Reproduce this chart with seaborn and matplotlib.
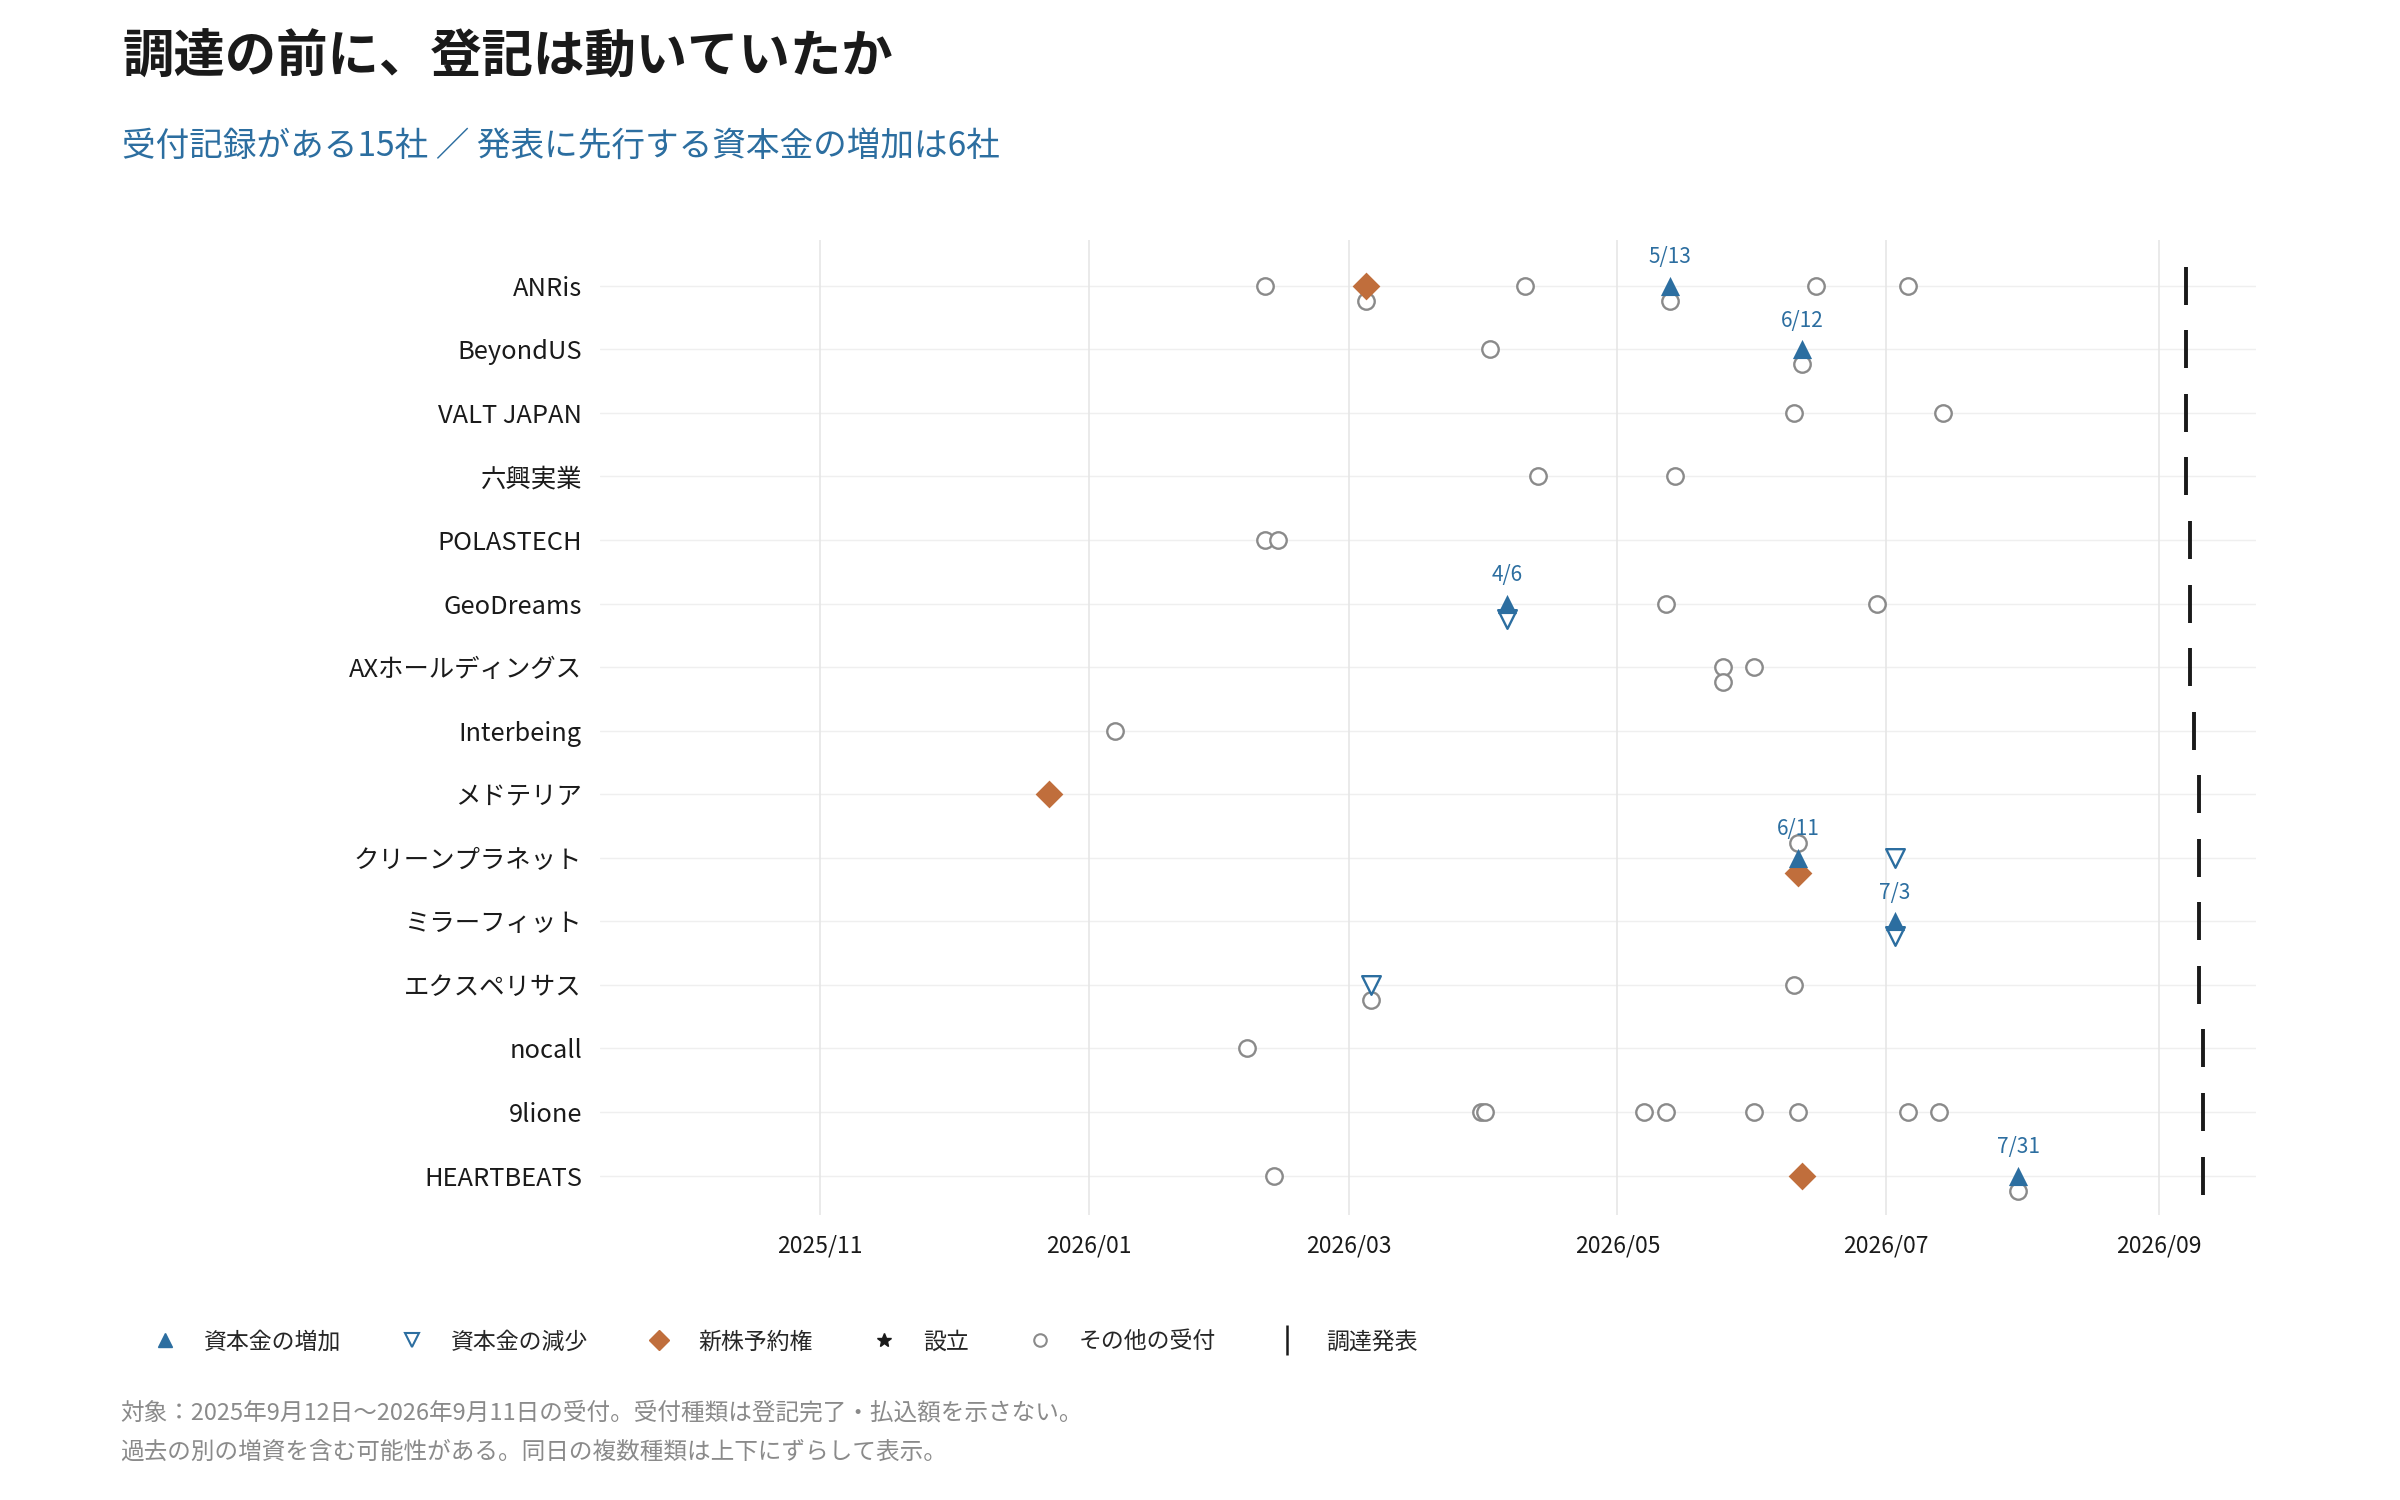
import matplotlib
matplotlib.use("Agg")
import matplotlib.pyplot as plt
import matplotlib.dates as mdates
from matplotlib.lines import Line2D
import seaborn as sns
import pandas as pd
import numpy as np

# Datos
companies = ["ANRis", "BeyondUS", "VALT JAPAN", "六興実業", "POLASTECH", "GeoDreams",
             "AXホールディングス", "Interbeing", "メドテリア", "クリーンプラネット",
             "ミラーフィット", "エクスペリサス", "nocall", "9lione", "HEARTBEATS"]

announce_dates = ["2026-09-07", "2026-09-07", "2026-09-07", "2026-09-07",
                  "2026-09-08", "2026-09-08", "2026-09-08", "2026-09-09",
                  "2026-09-10", "2026-09-10", "2026-09-10", "2026-09-10",
                  "2026-09-11", "2026-09-11", "2026-09-11"]

ev_company = (["ANRis"] * 8 + ["BeyondUS"] * 3 + ["VALT JAPAN"] * 2 + ["六興実業"] * 2
              + ["POLASTECH"] * 2 + ["GeoDreams"] * 4 + ["AXホールディングス"] * 3
              + ["Interbeing"] + ["メドテリア"] + ["クリーンプラネット"] * 4
              + ["ミラーフィット"] * 2 + ["エクスペリサス"] * 3 + ["nocall"]
              + ["9lione"] * 8 + ["HEARTBEATS"] * 4)

ev_date = ["2026-02-10", "2026-03-05", "2026-03-05", "2026-04-10", "2026-05-13", "2026-05-13", "2026-06-15", "2026-07-06",
           "2026-04-02", "2026-06-12", "2026-06-12",
           "2026-06-10", "2026-07-14",
           "2026-04-13", "2026-05-14",
           "2026-02-10", "2026-02-13",
           "2026-04-06", "2026-04-06", "2026-05-12", "2026-06-29",
           "2026-05-25", "2026-05-25", "2026-06-01",
           "2026-01-07",
           "2025-12-23",
           "2026-06-11", "2026-06-11", "2026-06-11", "2026-07-03",
           "2026-07-03", "2026-07-03",
           "2026-03-06", "2026-03-06", "2026-06-10",
           "2026-02-06",
           "2026-03-31", "2026-04-01", "2026-05-07", "2026-05-12", "2026-06-01", "2026-06-11", "2026-07-06", "2026-07-13",
           "2026-02-12", "2026-06-12", "2026-07-31", "2026-07-31"]

ev_kind = ["other", "opt", "other", "other", "up", "other", "other", "other",
           "other", "up", "other",
           "other", "other",
           "other", "other",
           "other", "other",
           "up", "down", "other", "other",
           "other", "other", "other",
           "other",
           "opt",
           "other", "up", "opt", "down",
           "up", "down",
           "down", "other", "other",
           "other",
           "other", "other", "other", "other", "other", "other", "other", "other",
           "other", "opt", "up", "other"]

legend_labels = ["資本金の増加", "資本金の減少", "新株予約権", "設立", "その他の受付", "調達発表"]

BLUE = "#2c6ea0"
ORANGE = "#c06e3c"
GRAY = "#8a8a8a"
DARK = "#1a1a1a"

sns.set_theme(style="white")
plt.rcParams["font.family"] = ["Noto Sans CJK JP", "DejaVu Sans"]

df = pd.DataFrame({"company": ev_company, "date": pd.to_datetime(ev_date), "kind": ev_kind})
row = {c: i for i, c in enumerate(companies)}
df["row"] = df["company"].map(row)
# mismo día: desplazar arriba/abajo
g = df.groupby(["company", "date"])
df["idx"] = g.cumcount()
df["n"] = g["kind"].transform("size")
step = 0.236
df["y"] = df["row"] + (df["idx"] - (df["n"] - 1) // 2) * step

ann = pd.DataFrame({"company": companies, "date": pd.to_datetime(announce_dates)})
ann["y"] = ann["company"].map(row)

fig = plt.figure(figsize=(24, 15), dpi=100)
ax = fig.add_axes([0.25, 0.19, 0.69, 0.65])

for i in range(len(companies)):
    ax.axhline(i, color="#efefef", lw=1.0, zorder=0)

sns.scatterplot(data=df[df.kind == "other"], x="date", y="y", marker="o", s=140,
                facecolor="white", edgecolor=GRAY, linewidth=1.7, ax=ax, zorder=3)
sns.scatterplot(data=df[df.kind == "opt"], x="date", y="y", marker="D", s=200,
                facecolor=ORANGE, edgecolor=ORANGE, linewidth=0, ax=ax, zorder=4)
sns.scatterplot(data=df[df.kind == "down"], x="date", y="y", marker="v", s=180,
                facecolor="white", edgecolor=BLUE, linewidth=1.7, ax=ax, zorder=4)
sns.scatterplot(data=df[df.kind == "up"], x="date", y="y", marker="^", s=190,
                facecolor=BLUE, edgecolor=BLUE, linewidth=0, ax=ax, zorder=5)
sns.scatterplot(data=ann, x="date", y="y", marker="|", s=720, color=DARK,
                linewidth=2.8, ax=ax, zorder=5)

# etiquetas de fecha del aumento de capital
for _, r in df[df.kind == "up"].iterrows():
    ax.text(r["date"], r["row"] - 0.45, f"{r['date'].month}/{r['date'].day}",
            ha="center", va="center", color=BLUE, fontsize=15, zorder=6)

ax.set_xlim(pd.Timestamp("2025-09-12"), pd.Timestamp("2026-09-23"))
ax.set_ylim(14.62, -0.72)
ax.xaxis.set_major_locator(mdates.MonthLocator(bymonth=[1, 3, 5, 7, 9, 11]))
ax.xaxis.set_major_formatter(mdates.DateFormatter("%Y/%m"))
ax.set_yticks(range(len(companies)))
ax.set_yticklabels(companies)
ax.tick_params(axis="y", length=0, pad=13, labelsize=18.3, labelcolor=DARK)
ax.tick_params(axis="x", length=0, pad=14, labelsize=16.5, labelcolor=DARK)
ax.grid(axis="x", color="#e6e6e6", lw=1.2)
ax.grid(axis="y", visible=False)
ax.set_xlabel("")
ax.set_ylabel("")
for sp in ax.spines.values():
    sp.set_visible(False)

fig.text(0.051, 1 - 57 / 1500, "調達の前に、登記は動いていたか", fontsize=37,
         fontweight="bold", color=DARK, va="center", ha="left")
fig.text(0.051, 1 - 146 / 1500, "受付記録がある15社 ／ 発表に先行する資本金の増加は6社",
         fontsize=24.2, color=BLUE, va="center", ha="left")

handles = [
    Line2D([], [], marker="^", ls="none", color=BLUE, markersize=10),
    Line2D([], [], marker="v", ls="none", markerfacecolor="white", markeredgecolor=BLUE, markeredgewidth=1.5, markersize=10),
    Line2D([], [], marker="D", ls="none", color=ORANGE, markersize=10),
    Line2D([], [], marker="*", ls="none", color=DARK, markersize=10),
    Line2D([], [], marker="o", ls="none", markerfacecolor="white", markeredgecolor=GRAY, markeredgewidth=1.5, markersize=9),
    Line2D([], [], marker="|", ls="none", color=DARK, markersize=21, markeredgewidth=1.8),
]
fig.legend(handles, legend_labels, loc="center left", bbox_to_anchor=(0.063, 1 - 1342 / 1500),
           ncol=6, frameon=False, fontsize=16.5, handlelength=1.2, handletextpad=1.1,
           columnspacing=2.5, borderpad=0, borderaxespad=0)

fig.text(0.05, 1 - 1413 / 1500, "対象：2025年9月12日〜2026年9月11日の受付。受付種類は登記完了・払込額を示さない。",
         fontsize=17, color=GRAY, va="center", ha="left")
fig.text(0.05, 1 - 1452 / 1500, "過去の別の増資を含む可能性がある。同日の複数種類は上下にずらして表示。",
         fontsize=17, color=GRAY, va="center", ha="left")

fig.savefig("out.png", dpi=100, facecolor="white")
